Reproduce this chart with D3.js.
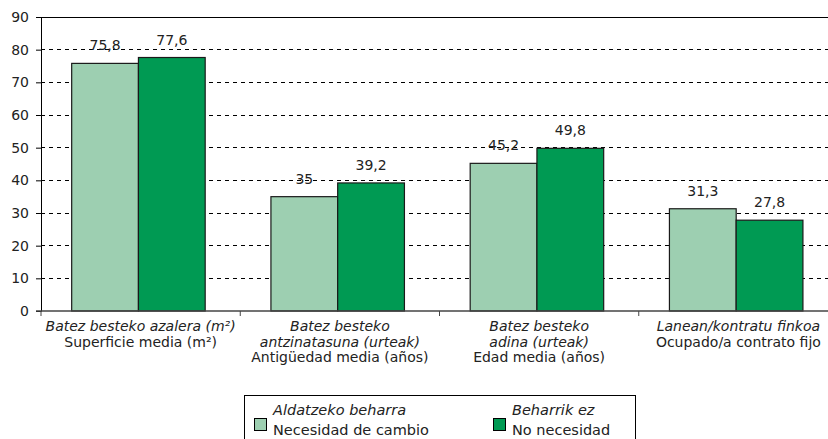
<!DOCTYPE html>
<html><head><meta charset="utf-8">
<script src="https://cdn.jsdelivr.net/npm/d3@7"></script>
<style>body{margin:0;background:#fff}svg{display:block;font-family:"DejaVu Sans",sans-serif}</style>
</head><body><svg id="c" width="828" height="439"></svg>
<script>
const categories = ["surface","antiquity","age","contract"];
const labelsEu = [["Batez besteko azalera (m²)"],["Batez besteko","antzinatasuna (urteak)"],["Batez besteko","adina (urteak)"],["Lanean/kontratu finkoa"]];
const labelsEs = ["Superficie media (m²)","Antigüedad media (años)","Edad media (años)","Ocupado/a contrato fijo"];
const seriesKeys = ["change","noneed"];
const seriesEu = ["Aldatzeko beharra","Beharrik ez"];
const seriesEs = ["Necesidad de cambio","No necesidad"];
const valuesChange = [75.8, 35, 45.2, 31.3];
const valuesNoNeed = [77.6, 39.2, 49.8, 27.8];
const yTicks = [0,10,20,30,40,50,60,70,80,90];
const colors = ["#9dcfb1","#009a53"];

const svg = d3.select("#c");
const L = 41, R = 838, T = 17, B = 311;
const y = d3.scaleLinear().domain([0,90]).range([B,T]);
const x0 = d3.scaleBand().domain(categories).range([L,R]).padding(0);
const step = x0.step();
const x1 = d3.scaleBand().domain(seriesKeys).range([step*0.154, step*0.154 + step*0.67]).padding(0);
const fmt = v => String(v).replace(".", ",");

// gridlines
svg.append("g").selectAll("line").data(yTicks.filter(t => t>0 && t<90)).join("line")
  .attr("x1", L).attr("x2", R).attr("y1", d=>y(d)).attr("y2", d=>y(d))
  .attr("stroke","#000").attr("stroke-dasharray","4,4").attr("stroke-width",1).attr("shape-rendering","crispEdges");
// top border
svg.append("line").attr("x1",L).attr("x2",R).attr("y1",y(90)).attr("y2",y(90)).attr("stroke","#000").attr("shape-rendering","crispEdges");

// bars
const data = categories.map((c,i)=>({c, vals:[valuesChange[i], valuesNoNeed[i]]}));
const grp = svg.append("g").selectAll("g").data(data).join("g").attr("transform", d=>`translate(${x0(d.c)},0)`);
grp.selectAll("rect").data(d=>d.vals.map((v,j)=>({k:seriesKeys[j], v, j}))).join("rect")
  .attr("x", d=>x1(d.k)).attr("width", x1.bandwidth())
  .attr("y", d=>y(d.v)).attr("height", d=>y(0)-y(d.v))
  .attr("fill", d=>colors[d.j]).attr("stroke","#1a1a1a").attr("stroke-width",1.2);
grp.selectAll("text").data(d=>d.vals.map((v,j)=>({k:seriesKeys[j], v, j}))).join("text")
  .attr("x", d=>x1(d.k)+x1.bandwidth()/2).attr("y", d=>y(d.v)-13)
  .attr("text-anchor","middle").attr("font-size",14).attr("fill","#222").text(d=>fmt(d.v));

// y axis
const ya = svg.append("g").attr("transform",`translate(${L},0)`)
  .call(d3.axisLeft(y).tickValues(yTicks).tickSize(5).tickPadding(7).tickFormat(d3.format("d")));
ya.select(".domain").attr("stroke","#000");
ya.selectAll("text").attr("font-size",14).attr("fill","#222").attr("font-family","DejaVu Sans");

// x axis
const xa = svg.append("g").attr("transform",`translate(0,${B})`);
xa.append("line").attr("x1",L-5).attr("x2",R).attr("y1",0).attr("y2",0).attr("stroke","#444").attr("stroke-width",1.5);
xa.selectAll("line.t").data(categories.slice(1)).join("line").attr("class","t")
  .attr("x1",d=>x0(d)).attr("x2",d=>x0(d)).attr("y1",0).attr("y2",5).attr("stroke","#444");
xa.append("line").attr("x1",L).attr("x2",L).attr("y1",0).attr("y2",5).attr("stroke","#444");

// category labels
categories.forEach((c,i)=>{
  const cx = x0(c)+step/2;
  const t = svg.append("text").attr("text-anchor","middle").attr("font-size",14).attr("fill","#222");
  const lines = labelsEu[i].map(s=>({s, it:true})).concat([{s:labelsEs[i], it:false}]);
  lines.forEach((l,k)=>{
    t.append("tspan").attr("x",cx).attr("y",331+k*15.5).attr("font-style",l.it?"italic":"normal").text(l.s);
  });
});

// legend
const lg = svg.append("g");
lg.append("rect").attr("x",244.5).attr("y",395.5).attr("width",391).attr("height",60).attr("fill","#fff").attr("stroke","#000");
const legX = [254, 493];
seriesKeys.forEach((k,j)=>{
  lg.append("rect").attr("x",legX[j]+0.5).attr("y",418.5).attr("width",12).attr("height",12).attr("fill",colors[j]).attr("stroke","#000");
  lg.append("text").attr("x",legX[j]+19).attr("y",415).attr("font-size",14.5).attr("font-style","italic").attr("fill","#222").text(seriesEu[j]);
  lg.append("text").attr("x",legX[j]+19).attr("y",435).attr("font-size",14.5).attr("fill","#222").text(seriesEs[j]);
});
</script></body></html>
